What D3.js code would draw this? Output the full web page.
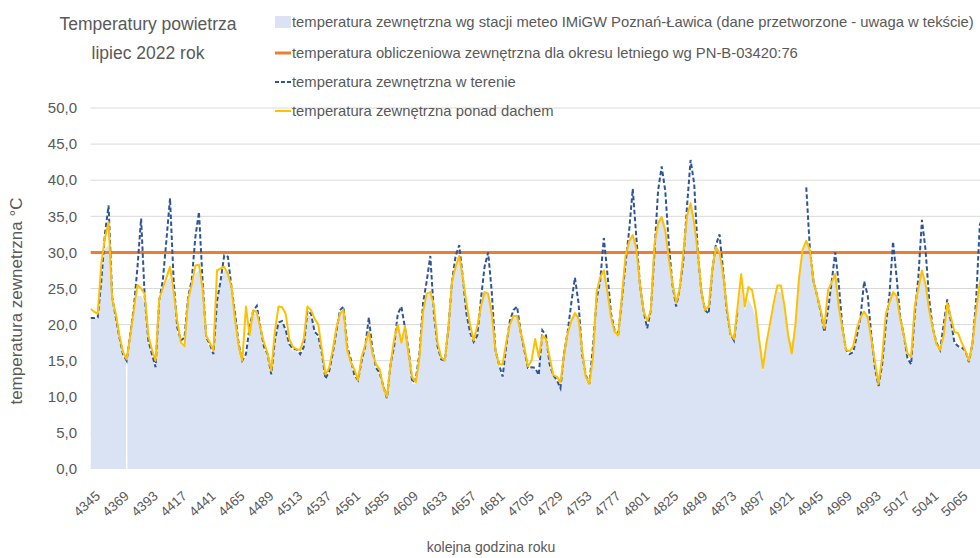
<!DOCTYPE html>
<html lang="pl">
<head>
<meta charset="UTF-8">
<title>Temperatury powietrza - lipiec 2022</title>
<script src="https://cdn.jsdelivr.net/npm/d3@7"></script>
<style>
    body { margin: 0; background: #fff; }
    svg text { font-family: "Liberation Sans", Arial, sans-serif; fill: #595959; }
</style>
</head>
<body>
<svg id="chart" width="980" height="558"></svg>
<script>
// hours of the year, one value every 3 hours (8 per day, 31 days)
const firstHour = 4345;
const stepHours = 3;

// temperatura zewnetrzna wg stacji meteo (area)
const stationTemp = [
    20.8, 20.8, 20.8, 26.0, 30.5, 31.0, 23.0, 20.8,
    18.0, 15.5, 15.0, 18.3, 21.5, 24.0, 24.0, 23.0,
    17.5, 15.5, 13.8, 22.5, 24.5, 26.0, 26.5, 24.0,
    19.0, 17.2, 16.8, 23.0, 25.0, 27.0, 27.5, 24.5,
    17.8, 16.8, 15.6, 23.0, 26.0, 27.5, 27.0, 24.8,
    20.0, 16.8, 14.5, 15.5, 18.3, 21.5, 21.5, 19.0,
    16.5, 15.5, 12.8, 17.5, 20.0, 20.3, 19.0, 17.0,
    16.3, 16.3, 15.6, 16.6, 21.5, 21.0, 18.8, 18.0,
    15.5, 12.3, 13.2, 15.8, 18.8, 21.3, 21.8, 16.5,
    14.5, 12.8, 12.0, 14.8, 16.8, 19.0, 15.8, 13.8,
    13.0, 11.0, 9.6, 14.2, 16.8, 20.0, 17.5, 19.2,
    15.5, 11.8, 11.8, 15.3, 21.5, 24.0, 24.3, 21.0,
    16.8, 15.0, 14.8, 19.2, 25.5, 28.0, 29.5, 26.0,
    21.3, 18.6, 17.3, 18.3, 22.3, 24.3, 24.3, 21.3,
    16.2, 14.2, 12.6, 16.8, 20.0, 21.0, 21.0, 18.8,
    16.3, 13.8, 13.8, 13.8, 12.8, 18.5, 17.8, 14.3,
    12.8, 12.0, 11.0, 15.6, 18.6, 20.5, 21.5, 20.5,
    15.6, 12.6, 11.5, 15.3, 23.3, 25.8, 27.0, 24.3,
    21.0, 18.8, 18.3, 23.3, 28.3, 31.3, 32.3, 30.3,
    25.3, 21.6, 19.3, 21.8, 29.8, 33.8, 34.8, 33.0,
    28.8, 25.3, 22.3, 24.8, 28.8, 35.0, 36.5, 34.0,
    29.8, 24.3, 21.8, 21.3, 27.3, 30.5, 30.0, 27.0,
    21.8, 18.5, 17.5, 21.8, 25.0, 22.0, 23.5, 22.5,
    21.0, 17.5, 13.5, 17.0, 19.5, 22.5, 24.5, 24.5,
    22.0, 18.0, 17.5, 19.5, 26.0, 30.0, 31.3, 30.0,
    25.5, 23.5, 21.5, 18.8, 21.8, 25.5, 27.0, 22.2,
    19.3, 16.2, 15.6, 16.0, 18.3, 20.8, 21.6, 20.8,
    17.8, 13.8, 11.3, 14.3, 19.8, 22.8, 24.3, 23.6,
    20.6, 18.3, 15.0, 14.3, 21.3, 24.8, 27.3, 25.3,
    21.8, 19.3, 17.0, 16.3, 18.3, 22.8, 20.3, 17.3,
    16.8, 16.5, 16.2, 14.6, 17.3, 21.8, 25.5, 27.3
];
// hours with no station reading
const stationGaps = [4375];

// temperatura zewnetrzna w terenie (dashed), null = no reading
const terrainTemp = [
    20.9, 20.9, 21.0, 26.1, 32.6, 36.5, 23.8, 21.0,
    18.2, 15.9, 15.0, 18.7, 22.4, 28.0, 34.7, 23.8,
    17.8, 15.9, 14.1, 23.3, 26.1, 31.7, 37.5, 26.1,
    19.6, 17.8, 18.2, 23.8, 26.1, 32.1, 35.6, 26.1,
    18.2, 17.3, 15.9, 23.3, 26.1, 29.6, 29.4, 25.2,
    21.5, 17.3, 15.0, 15.9, 19.6, 21.9, 22.6, 19.6,
    16.9, 15.9, 13.1, 17.8, 20.3, 20.5, 19.2, 17.3,
    16.6, 16.6, 15.9, 16.9, 21.9, 21.5, 19.0, 18.5,
    16.0, 12.5, 13.5, 16.0, 19.0, 22.0, 22.5, 17.0,
    15.2, 13.0, 12.3, 15.0, 17.0, 21.0, 16.5, 14.0,
    13.3, 11.5, 9.8, 14.5, 17.0, 21.5, 22.5, 19.5,
    16.5, 12.0, 12.5, 16.0, 23.0, 26.0, 29.5, 21.5,
    17.0, 15.2, 15.0, 19.5, 26.0, 29.5, 31.0, 26.5,
    21.5, 18.9, 17.6, 18.5, 23.5, 28.0, 30.0, 24.5,
    16.5, 14.5, 12.8, 17.0, 20.5, 22.0, 22.5, 19.0,
    16.5, 14.0, 14.1, 14.0, 13.0, 19.2, 18.5, 14.5,
    13.0, 12.3, 11.2, 16.0, 19.0, 23.0, 26.5, 23.0,
    15.9, 13.0, 11.8, 17.0, 23.5, 26.1, 32.0, 27.0,
    21.5, 19.2, 18.8, 23.5, 28.5, 33.0, 38.8, 32.0,
    25.5, 21.9, 19.5, 22.0, 30.0, 38.5, 41.9, 38.5,
    31.0, 25.5, 22.5, 25.0, 29.0, 36.3, 42.8, 39.5,
    30.0, 24.5, 22.0, 21.5, 27.5, 31.0, 32.5, 27.5,
    22.0, 18.7, 17.8, 22.0, null, null, null, null,
    null, null, null, null, null, null, null, null,
    null, null, null, null, null, null, 39.0, 30.5,
    26.0, 24.0, 21.8, 19.0, 22.0, 25.8, 30.0, 25.6,
    19.6, 16.5, 15.9, 16.2, 18.5, 21.0, 26.0, 24.0,
    18.5, 14.0, 11.5, 14.5, 20.0, 24.0, 31.5, 26.5,
    21.0, 18.5, 15.3, 14.5, 21.5, 26.5, 34.5, 30.3,
    23.5, 19.5, 17.5, 16.5, 20.0, 23.5, 20.5, 17.5,
    17.0, 16.8, 16.4, 14.8, 17.5, 23.5, 33.8, 35.0
];

// temperatura zewnetrzna ponad dachem (yellow)
const roofTemp = [
    22.2, 21.8, 21.5, 28.5, 32.0, 34.2, 23.5, 21.5,
    18.5, 16.2, 15.2, 18.5, 22.0, 25.5, 25.0, 24.2,
    18.5, 16.5, 15.0, 23.5, 25.0, 26.5, 28.0, 24.5,
    20.5, 17.5, 17.0, 23.5, 25.5, 28.2, 28.3, 25.0,
    18.5, 17.5, 16.4, 27.5, 27.8, 28.0, 27.0, 25.2,
    20.6, 17.0, 15.0, 22.5, 18.5, 22.0, 21.7, 19.5,
    17.5, 16.0, 13.6, 19.0, 22.5, 22.4, 21.5, 18.0,
    16.9, 16.6, 16.5, 18.0, 22.5, 22.0, 20.8, 20.0,
    16.5, 13.1, 14.0, 16.5, 19.5, 21.5, 22.0, 16.5,
    14.8, 13.8, 12.3, 15.5, 17.2, 19.0, 16.0, 14.5,
    13.8, 11.3, 10.0, 14.5, 18.0, 20.0, 17.5, 19.8,
    15.8, 12.7, 12.0, 15.5, 21.8, 24.3, 24.5, 22.5,
    17.5, 15.5, 15.0, 19.5, 26.0, 28.0, 29.5, 26.5,
    23.0, 20.0, 17.8, 19.8, 22.5, 24.5, 24.3, 21.5,
    16.5, 14.5, 14.5, 17.5, 20.0, 21.2, 21.2, 19.0,
    16.9, 14.2, 15.0, 18.0, 15.5, 18.5, 18.0, 15.5,
    13.0, 12.8, 12.0, 15.8, 18.8, 20.5, 21.6, 20.8,
    16.5, 12.8, 11.8, 15.5, 24.5, 26.6, 27.5, 24.5,
    21.0, 19.0, 18.5, 24.0, 29.5, 31.5, 32.4, 30.5,
    25.5, 21.9, 20.5, 22.0, 31.0, 34.0, 34.9, 33.0,
    29.0, 25.8, 23.0, 25.0, 30.0, 35.0, 36.8, 34.0,
    30.0, 24.5, 22.0, 22.5, 27.5, 30.7, 30.0, 27.0,
    22.5, 18.7, 18.0, 22.5, 27.0, 22.5, 25.2, 24.8,
    22.0, 17.8, 14.0, 17.5, 20.2, 23.0, 25.4, 25.4,
    22.5, 18.5, 16.0, 20.0, 26.5, 30.4, 31.6, 30.3,
    26.0, 24.0, 22.0, 19.5, 24.7, 25.8, 27.0, 22.4,
    19.5, 16.5, 16.3, 17.0, 19.5, 21.0, 21.8, 21.0,
    18.0, 14.8, 11.8, 15.5, 21.5, 23.0, 24.5, 23.9,
    20.8, 18.5, 16.0, 15.5, 22.5, 25.0, 27.5, 25.6,
    22.0, 19.5, 17.3, 16.5, 18.5, 23.0, 21.0, 19.0,
    18.8, 17.5, 16.4, 15.0, 17.5, 22.0, 25.8, 27.5
];

// temperatura obliczeniowa wg PN-B-03420:76
const designTemp = 30;

const yTicks = [0, 5, 10, 15, 20, 25, 30, 35, 40, 45, 50];
const xTickLabels = d3.range(4345, 5066, 24);

const legendLabels = [
    "temperatura zewnętrzna wg stacji meteo IMiGW Poznań-Ławica (dane przetworzone - uwaga w tekście)",
    "temperatura obliczeniowa zewnętrzna dla okresu letniego wg PN-B-03420:76",
    "temperatura zewnętrzna w terenie",
    "temperatura zewnętrzna ponad dachem"
];

const hours = stationTemp.map((d, i) => firstHour + i * stepHours);

const svg = d3.select("#chart");
const W = 980, H = 558;
const plotLeft = 90.5, plotTop = 108, plotBottom = 469;

const x = d3.scaleLinear().domain([4345, 5088]).range([plotLeft, plotLeft + 743 * 1.205]);
const y = d3.scaleLinear().domain([0, 50]).range([plotBottom, plotTop]);

svg.append("defs").append("clipPath").attr("id", "clip")
    .append("rect").attr("x", plotLeft).attr("y", 0).attr("width", W - plotLeft).attr("height", H);

// gridlines
svg.append("g").selectAll("line").data(yTicks.filter(d => d > 0)).join("line")
    .attr("x1", plotLeft).attr("x2", W)
    .attr("y1", d => y(d)).attr("y2", d => y(d))
    .attr("stroke", "#d9d9d9").attr("stroke-width", 1);

const plot = svg.append("g").attr("clip-path", "url(#clip)");

// station area
plot.append("path")
    .datum(stationTemp)
    .attr("fill", "#dae3f3")
    .attr("d", d3.area()
        .x((d, i) => x(hours[i]))
        .y0(y(0))
        .y1(d => y(d)));

// missing station readings drop to zero
plot.append("g").selectAll("line").data(stationGaps).join("line")
    .attr("x1", d => x(d)).attr("x2", d => x(d))
    .attr("y1", y(0)).attr("y2", y(15))
    .attr("stroke", "#fff").attr("stroke-width", 1.5);

// design temperature
plot.append("line")
    .attr("x1", plotLeft).attr("x2", W)
    .attr("y1", y(designTemp)).attr("y2", y(designTemp))
    .attr("stroke", "#ed7d31").attr("stroke-width", 3);

const line = d3.line()
    .defined(d => d != null)
    .x((d, i) => x(hours[i]))
    .y(d => y(d));

plot.append("path")
    .datum(terrainTemp)
    .attr("fill", "none")
    .attr("stroke", "#2f5597")
    .attr("stroke-width", 2)
    .attr("stroke-dasharray", "4.5,2.5")
    .attr("d", line);

plot.append("path")
    .datum(roofTemp)
    .attr("fill", "none")
    .attr("stroke", "#ffc000")
    .attr("stroke-width", 2)
    .attr("stroke-linejoin", "round")
    .attr("d", line);

// y axis labels
svg.append("g").selectAll("text").data(yTicks).join("text")
    .attr("x", 77)
    .attr("y", d => y(d))
    .attr("dy", "0.35em")
    .attr("text-anchor", "end")
    .style("font-size", "15px")
    .text(d => d3.format(".1f")(d).replace(".", ","));

// x axis labels
svg.append("g").selectAll("text").data(xTickLabels).join("text")
    .attr("transform", d => `translate(${x(d) + 4},${490}) rotate(-42)`)
    .attr("text-anchor", "end")
    .attr("dy", "0.72em")
    .style("font-size", "13.5px")
    .text(d => d);

// axis titles
svg.append("text")
    .attr("transform", `translate(22,301) rotate(-90)`)
    .attr("text-anchor", "middle")
    .style("font-size", "17px")
    .text("temperatura zewnetrzna °C");

svg.append("text")
    .attr("x", 491).attr("y", 552)
    .attr("text-anchor", "middle")
    .style("font-size", "14px")
    .text("kolejna godzina roku");

// title
svg.append("text")
    .attr("x", 148).attr("y", 30)
    .attr("text-anchor", "middle")
    .style("font-size", "17.5px")
    .text("Temperatury powietrza");
svg.append("text")
    .attr("x", 148).attr("y", 59)
    .attr("text-anchor", "middle")
    .style("font-size", "17.5px")
    .text("lipiec 2022 rok");

// legend
const legendY = [22, 53, 82, 111];
const leg = svg.append("g");
legendLabels.forEach((label, i) => {
    const g = leg.append("g").attr("transform", `translate(275,${legendY[i]})`);
    if (i === 0) {
        g.append("rect").attr("x", 0).attr("y", -6).attr("width", 16).attr("height", 12).attr("fill", "#dae3f3");
    } else if (i === 1) {
        g.append("line").attr("x1", 0).attr("x2", 16).attr("stroke", "#ed7d31").attr("stroke-width", 3);
    } else if (i === 2) {
        g.append("line").attr("x1", 0).attr("x2", 16).attr("stroke", "#2f5597").attr("stroke-width", 2).attr("stroke-dasharray", "4,2");
    } else {
        g.append("line").attr("x1", 0).attr("x2", 16).attr("stroke", "#ffc000").attr("stroke-width", 2);
    }
    g.append("text")
        .attr("x", 17)
        .attr("dy", "0.35em")
        .style("font-size", "14.8px")
        .text(label);
});
</script>
</body>
</html>
